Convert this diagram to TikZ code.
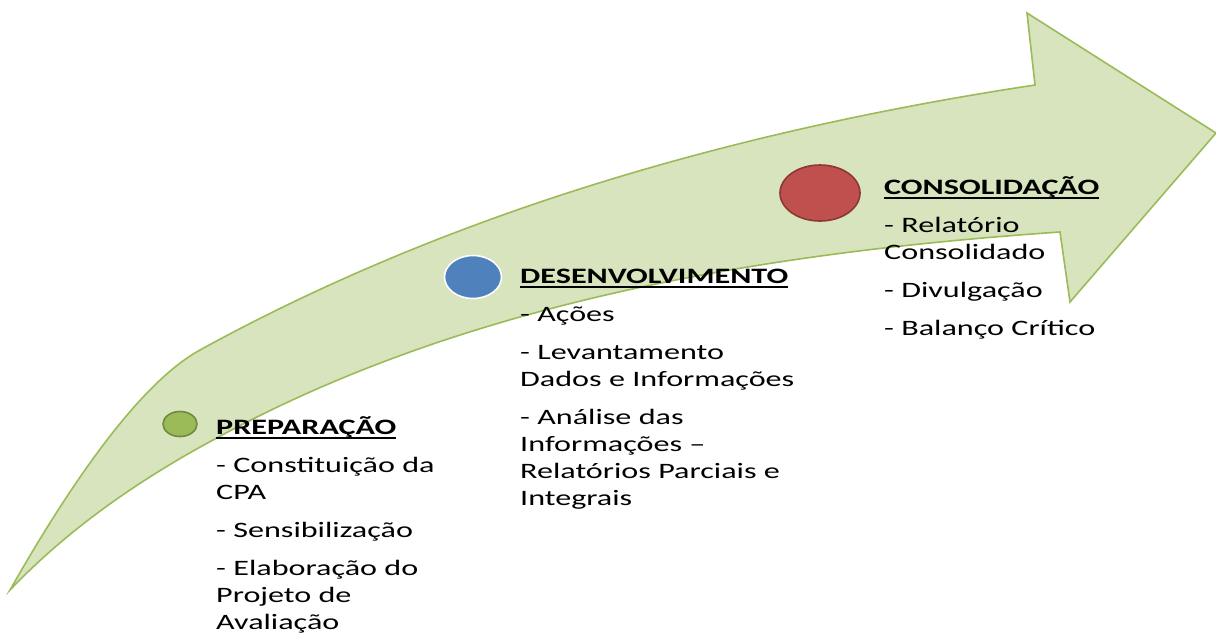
\documentclass[tikz,border=0pt]{standalone}
\usepackage{fontspec}
\setmainfont[FakeStretch=1.46]{Carlito}
\usetikzlibrary{shapes.geometric}
\definecolor{arrowfill}{HTML}{D7E4BD}
\definecolor{arrowline}{HTML}{9BBB59}
\definecolor{dotgreen}{HTML}{9BBB59}
\definecolor{dotgreenline}{HTML}{71893F}
\definecolor{dotblue}{HTML}{4F81BD}
\definecolor{dotred}{HTML}{C0504D}
\definecolor{dotredline}{HTML}{8C3836}
\newcommand{\headline}[1]{\leavevmode\setbox0\hbox{\bfseries #1}\rlap{\rule[-5pt]{\wd0}{1.6pt}}\box0}

\begin{document}
\begin{tikzpicture}[x=1pt, y=-1pt,
	dot/.style={ellipse, inner sep=0pt, line width=1.6pt},
	stage/.style={anchor=base west, align=left, inner sep=0pt, text width=#1,
		font=\fontsize{22}{27}\selectfont}]
	\useasboundingbox (0, 0) rectangle (1216, 633);
	
	\draw[arrowline, fill=arrowfill, line width=1.6pt]
		(10, 590) .. controls (85, 458) and (149, 378) .. (200, 350)
		.. controls (433, 222) and (711, 134) .. (1035, 85)
		-- (1027, 13) -- (1216, 133) -- (1070, 302) -- (1060, 232)
		.. controls (770, 252) and (468, 300) .. (213, 440)
		.. controls (139, 480) and (68, 529) .. cycle;
	
	\node[dot, draw=dotgreenline, fill=dotgreen, minimum width=34pt, minimum height=25pt] (prepdot) at (180, 424) {};
	\node[dot, draw=white, fill=dotblue, minimum width=57pt, minimum height=43pt] (desdot) at (473, 277) {};
	\node[dot, draw=dotredline, fill=dotred, minimum width=80pt, minimum height=56pt] (consdot) at (820, 193) {};
	
	\node[stage=250pt] (prep) at (216, 434) {\headline{PREPARAÇÃO}\\[11pt]
		- Constituição da\\ CPA\\[11pt] - Sensibilização\\[11pt]
		- Elaboração do\\ Projeto de\\ Avaliação};
	\node[stage=310pt] (des) at (520, 283) {\headline{DESENVOLVIMENTO}\\[11pt]
		- Ações\\[11pt] - Levantamento\\ Dados e Informações\\[11pt]
		- Análise das\\ Informações –\\ Relatórios Parciais e\\ Integrais};
	\node[stage=250pt] (cons) at (884, 194) {\headline{CONSOLIDAÇÃO}\\[11pt]
		- Relatório\\ Consolidado\\[11pt] - Divulgação\\[11pt] - Balanço Crítico};
\end{tikzpicture}
\end{document}
